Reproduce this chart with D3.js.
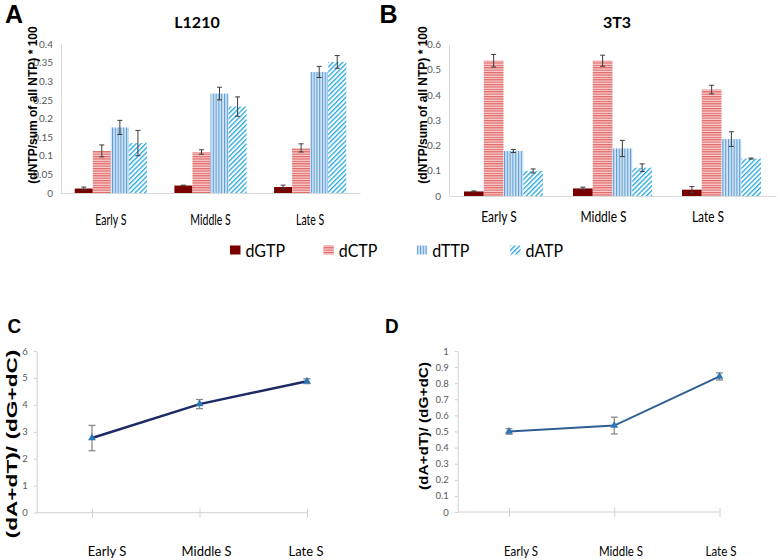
<!DOCTYPE html>
<html><head><meta charset="utf-8">
<script src="https://cdn.jsdelivr.net/npm/d3@7"></script>
<style>body{margin:0;background:#fff}svg{display:block}</style>
</head><body><svg id="c" width="780" height="560"></svg>
<script>
// ---------- DATA ----------
const phases = ["Early S", "Middle S", "Late S"];
const nucleotides = ["dGTP", "dCTP", "dTTP", "dATP"];
// rows = phases, columns = nucleotides
const l1210Values = [[0.012, 0.113, 0.176, 0.134], [0.020, 0.110, 0.267, 0.232], [0.016, 0.121, 0.325, 0.352]];
const l1210Errors = [[0.004, 0.016, 0.019, 0.034], [0.001, 0.006, 0.017, 0.026], [0.005, 0.011, 0.015, 0.017]];
const t3Values = [[0.018, 0.535, 0.178, 0.099], [0.030, 0.535, 0.188, 0.112], [0.025, 0.421, 0.225, 0.148]];
const t3Errors = [[0.002, 0.025, 0.006, 0.008], [0.005, 0.022, 0.032, 0.015], [0.012, 0.017, 0.029, 0.002]];
const ratioL1210 = [2.77, 4.03, 4.88];
const ratioL1210Err = [0.47, 0.17, 0.09];
const ratio3T3 = [0.50, 0.537, 0.842];
const ratio3T3Err = [0.017, 0.052, 0.022];
const ticksA = [0, 0.05, 0.1, 0.15, 0.2, 0.25, 0.3, 0.35, 0.4];
const ticksB = [0, 0.1, 0.2, 0.3, 0.4, 0.5, 0.6];
const ticksC = [0, 1, 2, 3, 4, 5, 6];
const ticksD = [0, 0.1, 0.2, 0.3, 0.4, 0.5, 0.6, 0.7, 0.8, 0.9, 1];

// ---------- SETUP ----------
const svg = d3.select("#c");
const fmt = d => String(+d.toFixed(2));
const defs = svg.append("defs");
function pattern(id, w, h, bg, fg, lw, vertical, rot) {
  const p = defs.append("pattern").attr("id", id).attr("patternUnits", "userSpaceOnUse")
    .attr("width", w).attr("height", h);
  if (rot) p.attr("patternTransform", `rotate(${rot})`);
  p.append("rect").attr("width", w).attr("height", h).attr("fill", bg);
  if (vertical) p.append("rect").attr("width", lw).attr("height", h).attr("fill", fg);
  else p.append("rect").attr("width", w).attr("height", lw).attr("fill", fg);
}
pattern("pC", 4, 2.4, "#f8d3d3", "#e26666", 1.2, false);
pattern("pT", 2.8, 4, "#d6e7f7", "#5b9bd5", 1.1, true);
pattern("pA", 3.4, 4, "#ffffff", "#22a7e2", 1.3, true, 45);
const fills = {dGTP: "#7a0000", dCTP: "url(#pC)", dTTP: "url(#pT)", dATP: "url(#pA)"};

function txt(g, x, y, s, o) {
  const t = g.append("text")
    .attr("transform", `translate(${x},${y}) rotate(${o.rot || 0}) scale(${o.sx || 1},${o.sy || 1})`)
    .attr("text-anchor", o.anchor || "middle")
    .attr("font-family", o.family || "Lato, sans-serif")
    .attr("font-size", o.size || 12)
    .attr("font-weight", o.weight || "normal")
    .attr("fill", o.fill || "#000")
    .text(s);
  if (o.dy) t.attr("dy", o.dy);
  return t;
}

function barPanel(o) {
  const g = svg.append("g");
  const x0 = d3.scaleBand().domain(phases).range([o.x0, o.x1]);
  const x1 = d3.scaleBand().domain(nucleotides).range([0, x0.bandwidth()]).paddingOuter(0.76);
  const y = d3.scaleLinear().domain([0, o.max]).range([o.yb, o.yt]);
  const ya = g.append("g").attr("transform", `translate(${o.x0},0)`)
    .call(d3.axisLeft(y).tickValues(o.ticks).tickSize(0).tickSizeOuter(0).tickPadding(8).tickFormat(fmt));
  ya.select(".domain").attr("stroke", "#d9d9d9");
  ya.selectAll("text").attr("fill", "#595959").attr("font-family", "Lato, sans-serif").attr("font-size", 10);
  const xa = g.append("g").attr("transform", `translate(0,${o.yb})`)
    .call(d3.axisBottom(x0).tickSize(0).tickSizeOuter(0).tickFormat(""));
  xa.select(".domain").attr("stroke", "#d9d9d9");
  const data = phases.flatMap((p, i) => nucleotides.map((n, j) => ({p, n, v: o.vals[i][j], e: o.errs[i][j]})));
  g.selectAll("rect.bar").data(data).join("rect").attr("class", "bar")
    .attr("x", d => x0(d.p) + x1(d.n)).attr("width", x1.bandwidth())
    .attr("y", d => y(d.v)).attr("height", d => y(0) - y(d.v))
    .attr("fill", d => fills[d.n]);
  const eb = g.selectAll("g.err").data(data).join("g").attr("class", "err")
    .attr("stroke", "#3c3c3c").attr("stroke-width", 1);
  const cx = d => x0(d.p) + x1(d.n) + x1.bandwidth() / 2;
  eb.append("line").attr("x1", cx).attr("x2", cx).attr("y1", d => y(d.v + d.e)).attr("y2", d => y(d.v - d.e));
  eb.append("line").attr("x1", d => cx(d) - 2.5).attr("x2", d => cx(d) + 2.5).attr("y1", d => y(d.v + d.e)).attr("y2", d => y(d.v + d.e));
  eb.append("line").attr("x1", d => cx(d) - 2.5).attr("x2", d => cx(d) + 2.5).attr("y1", d => y(d.v - d.e)).attr("y2", d => y(d.v - d.e));
  const xl = o.labelRange ? d3.scalePoint().domain(phases).range(o.labelRange) : (p => x0(p) + x0.bandwidth() / 2);
  phases.forEach(p => txt(g, xl(p), o.labelY, p, {size: o.labelSize, sy: o.labelSy, fill: "#000"}));
  txt(g, o.titleX, 28, o.title, {size: 16, weight: "bold"});
  txt(g, o.ytX, 105, "(dNTP/sum of all NTP) * 100", {rot: -90, size: 12, weight: "bold", family: "'Liberation Sans', Arial, sans-serif", dy: "0.35em"});
}

barPanel({x0: 61, x1: 360, yb: 193, yt: 44, max: 0.4, ticks: ticksA, vals: l1210Values, errs: l1210Errors,
  labelY: 225, labelSize: 10.5, labelSy: 1.4, title: "L1210", titleX: 197, ytX: 33});
barPanel({x0: 449, x1: 776, yb: 196, yt: 44.3, max: 0.6, ticks: ticksB, vals: t3Values, errs: t3Errors,
  labelY: 222, labelSize: 12, labelSy: 1.3, labelRange: [499, 708], title: "3T3", titleX: 617, ytX: 423});

// legend
const lg = svg.append("g");
const legendX = d3.scalePoint().domain(nucleotides).range([230, 510]);
nucleotides.forEach(n => {
  const lx = legendX(n);
  lg.append("rect").attr("x", lx).attr("y", 245.5).attr("width", 10.5).attr("height", 9).attr("fill", fills[n]);
  txt(lg, lx + 15.5, 256.5, n, {anchor: "start", size: 16, sy: 1.08, fill: "#000"});
});

function linePanel(o) {
  const g = svg.append("g");
  const x = d3.scalePoint().domain(phases).range([o.px0, o.px1]);
  const xl = d3.scalePoint().domain(phases).range(o.labelRange);
  const y = d3.scaleLinear().domain([0, o.max]).range([o.yb, o.yt]);
  const ya = g.append("g").attr("transform", `translate(${o.ax},0)`)
    .call(d3.axisLeft(y).tickValues(o.ticks).tickSize(3).tickSizeOuter(0).tickPadding(6).tickFormat(fmt));
  ya.selectAll("line,path").attr("stroke", "#d0d0d0");
  ya.selectAll("text").attr("fill", "#595959").attr("font-family", "Lato, sans-serif").attr("font-size", 9.5);
  g.append("line").attr("x1", o.ax).attr("x2", x(phases[2])).attr("y1", o.yb).attr("y2", o.yb).attr("stroke", "#d0d0d0");
  const xa = g.append("g").attr("transform", `translate(0,${o.yb})`)
    .call(d3.axisBottom(x).tickSize(5).tickSizeOuter(0).tickFormat(""));
  xa.select(".domain").remove();
  xa.selectAll(".tick line").attr("y1", -4).attr("stroke", "#d0d0d0");
  const data = phases.map((p, i) => ({p, v: o.vals[i], e: o.errs[i]}));
  const eb = g.selectAll("g.err").data(data).join("g").attr("class", "err").attr("stroke", "#8a8a8a").attr("stroke-width", 1.3);
  eb.append("line").attr("x1", d => x(d.p)).attr("x2", d => x(d.p)).attr("y1", d => y(d.v + d.e)).attr("y2", d => y(d.v - d.e));
  eb.append("line").attr("x1", d => x(d.p) - 3.5).attr("x2", d => x(d.p) + 3.5).attr("y1", d => y(d.v + d.e)).attr("y2", d => y(d.v + d.e));
  eb.append("line").attr("x1", d => x(d.p) - 3.5).attr("x2", d => x(d.p) + 3.5).attr("y1", d => y(d.v - d.e)).attr("y2", d => y(d.v - d.e));
  g.append("path").datum(data).attr("fill", "none").attr("stroke", o.color).attr("stroke-width", o.lw)
    .attr("d", d3.line().x(d => x(d.p)).y(d => y(d.v)));
  g.selectAll("path.m").data(data).join("path").attr("class", "m")
    .attr("transform", d => `translate(${x(d.p)},${y(d.v)})`)
    .attr("d", d3.symbol(d3.symbolTriangle, 26)).attr("fill", "#2e75b6");
  phases.forEach(p => txt(g, xl(p), o.labelY, p, {size: o.labelSize, sy: o.labelSy}));
  txt(g, o.ytX, o.ytY, "(dA+dT)/ (dG+dC)", {rot: -90, size: o.ytSize, sx: o.ytSx, weight: "bold", family: "'Liberation Sans', Arial, sans-serif", dy: "0.35em"});
}

linePanel({ax: 36.7, px0: 92, px1: 307, yb: 512.7, yt: 351, max: 6, ticks: ticksC, vals: ratioL1210, errs: ratioL1210Err,
  color: "#1c2a66", lw: 2.5, labelRange: [107, 306], labelY: 556, labelSize: 13, labelSy: 1.05, ytX: 12, ytY: 444, ytSize: 14, ytSx: 1.62});
linePanel({ax: 457.7, px0: 509, px1: 719.5, yb: 512, yt: 351, max: 1, ticks: ticksD, vals: ratio3T3, errs: ratio3T3Err,
  color: "#2f5e92", lw: 2, labelRange: [521, 721], labelY: 556, labelSize: 11.5, labelSy: 1.2, ytX: 424, ytY: 426, ytSize: 12.5, ytSx: 1.23});

// panel letters
const lf = "'Liberation Sans', Arial, sans-serif";
txt(svg, 5, 23, "A", {anchor: "start", size: 25, weight: "bold", family: lf});
txt(svg, 379.5, 23, "B", {anchor: "start", size: 25, weight: "bold", family: lf});
txt(svg, 7.5, 333, "C", {anchor: "start", size: 21, sx: 0.9, weight: "bold", family: lf});
txt(svg, 385, 333, "D", {anchor: "start", size: 21, sx: 0.9, weight: "bold", family: lf});
</script></body></html>
